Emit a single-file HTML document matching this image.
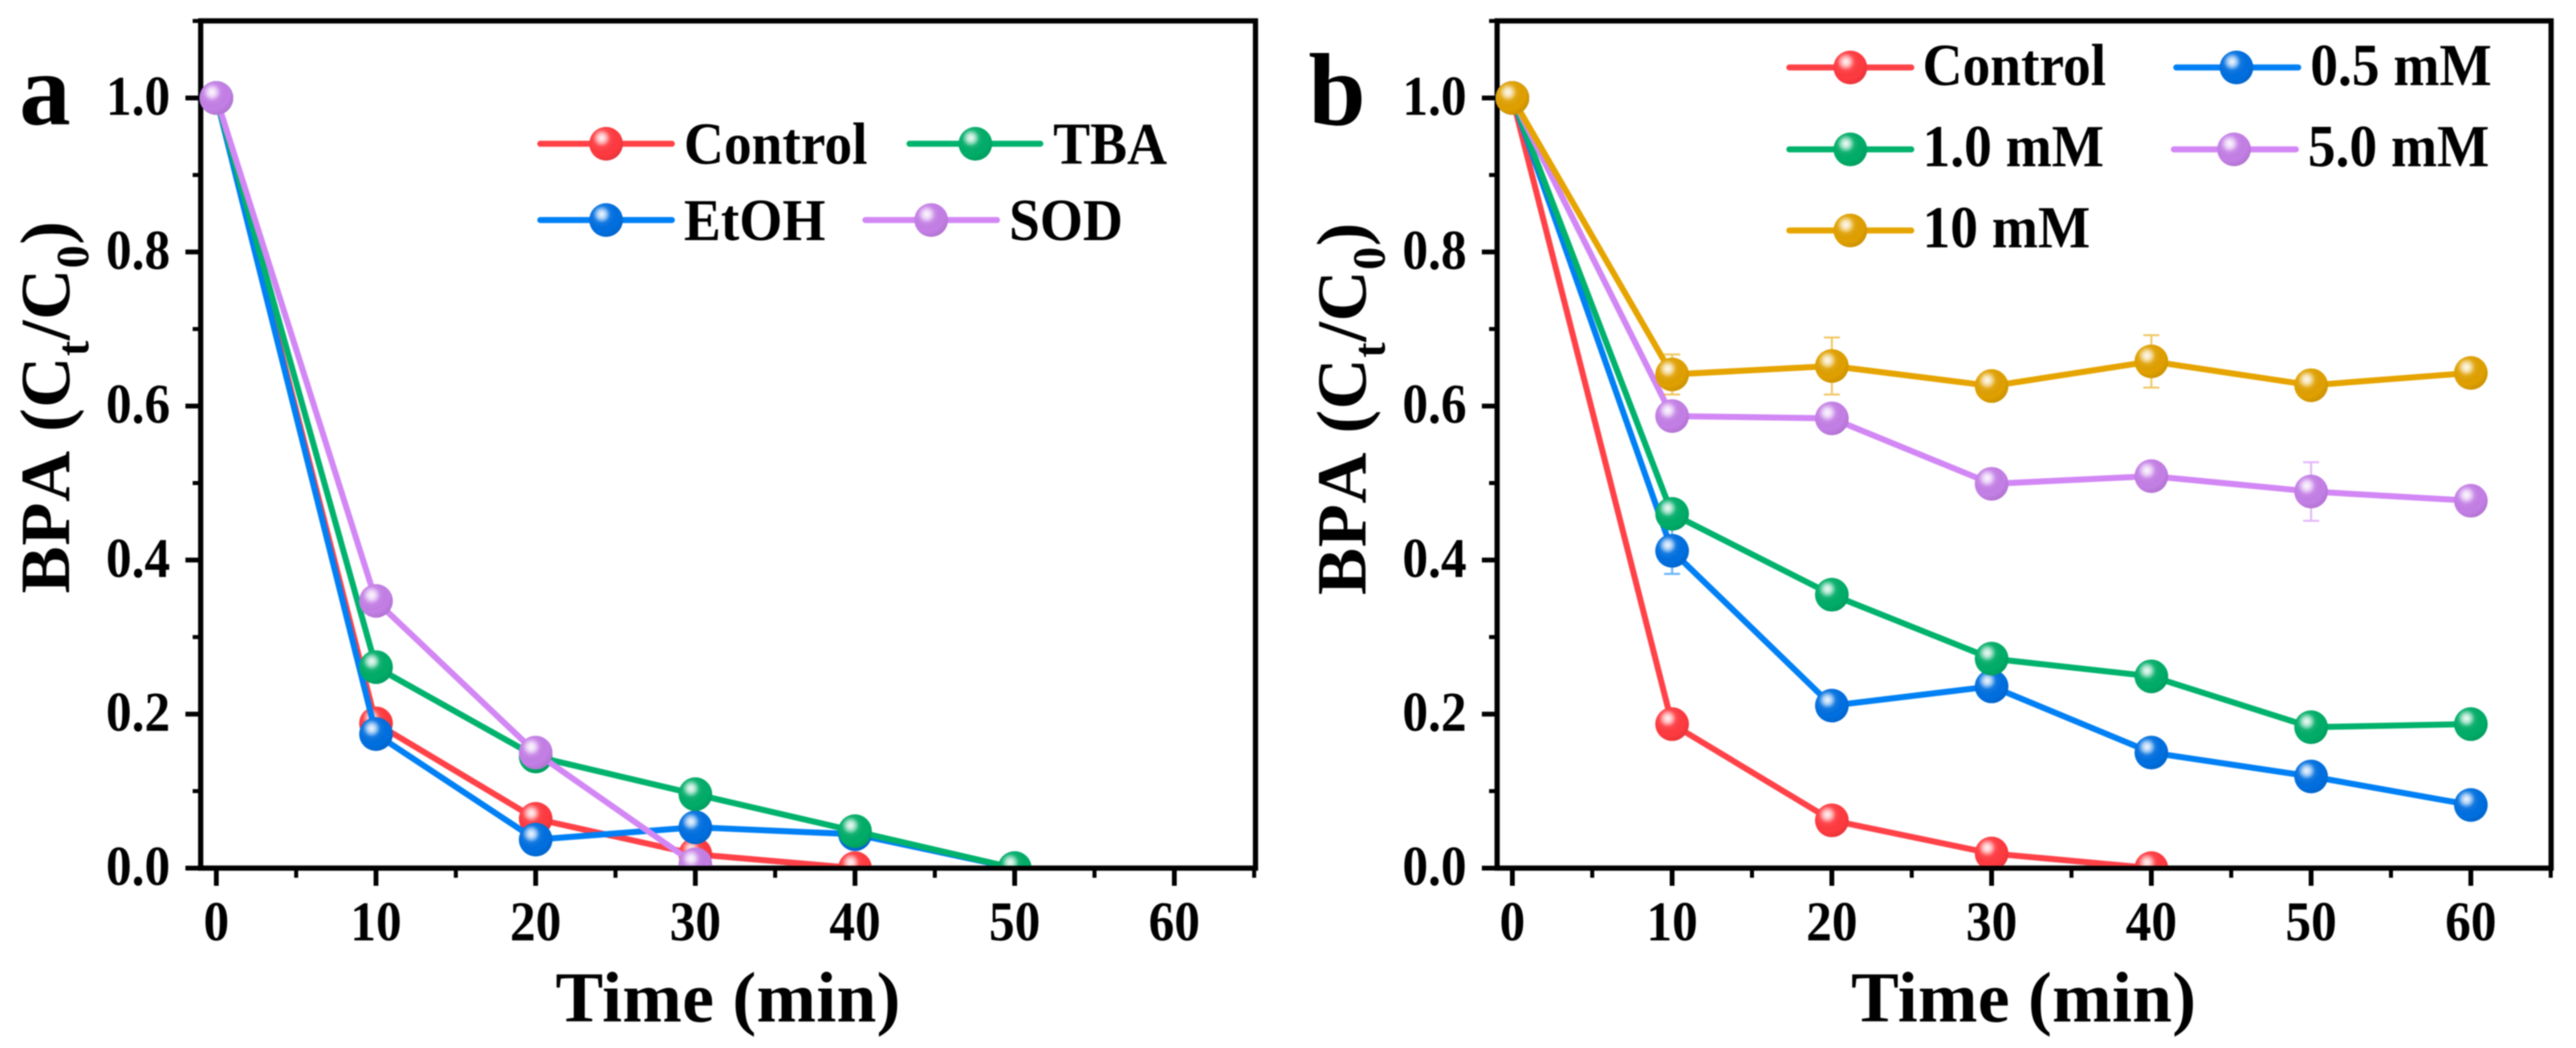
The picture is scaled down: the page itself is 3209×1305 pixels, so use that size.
<!DOCTYPE html>
<html lang="en">
<head>
<meta charset="utf-8">
<title>BPA degradation charts</title>
<style>
html,body{margin:0;padding:0;background:#fff;}
body{width:3209px;height:1305px;overflow:hidden;}
svg{display:block;filter:blur(0.8px);}
text{font-family:"Liberation Serif","Times New Roman",serif;font-weight:bold;fill:#000;}
</style>
</head>
<body>
<svg id="figure" xmlns="http://www.w3.org/2000/svg" width="3209" height="1305" viewBox="0 0 3209 1305">
  <defs>
    <radialGradient id="shine" cx="0.37" cy="0.33" r="0.72">
      <stop offset="0" stop-color="#fff" stop-opacity="0.95"/>
      <stop offset="0.16" stop-color="#fff" stop-opacity="0.7"/>
      <stop offset="0.36" stop-color="#fff" stop-opacity="0.08"/>
      <stop offset="0.7" stop-color="#000" stop-opacity="0"/>
      <stop offset="1" stop-color="#000" stop-opacity="0.1"/>
    </radialGradient>
    <clipPath id="clip-a"><rect x="200" y="26" width="1364" height="1052"/></clipPath>
    <clipPath id="clip-b"><rect x="1815" y="26" width="1362" height="1052"/></clipPath>
  </defs>
</svg>
<script>
// ---------- chart data ----------
const times = [0, 10, 20, 30, 40, 50, 60];
const xMajorTicks = [0, 10, 20, 30, 40, 50, 60];
const xMinorTicks = [5, 15, 25, 35, 45, 55, 65];
const xTickLabels = ['0', '10', '20', '30', '40', '50', '60'];
const yMajorTicks = [0, 0.2, 0.4, 0.6, 0.8, 1.0];
const yMinorTicks = [0.1, 0.3, 0.5, 0.7, 0.9, 1.1];
const yTickLabels = ['0.0', '0.2', '0.4', '0.6', '0.8', '1.0'];

// panel a
const aControl = [1, 0.188, 0.064, 0.018, 0];
const aEtOH = [1, 0.174, 0.037, 0.053, 0.044, 0];
const aTBA = [1, 0.261, 0.145, 0.096, 0.048, 0];
const aSOD = [1, 0.347, 0.150, 0.005];

// panel b
const bControl = [1, 0.187, 0.062, 0.019, 0];
const bHalf = [1, 0.412, 0.211, 0.236, 0.150, 0.119, 0.082];
const bOne = [1, 0.460, 0.355, 0.272, 0.249, 0.183, 0.187];
const bFive = [1, 0.587, 0.584, 0.499, 0.509, 0.489, 0.477];
const bTen = [1, 0.641, 0.652, 0.626, 0.658, 0.627, 0.643];

// panel b error bars (half-height, in BPA units)
const bHalfErr = [0, 0.030, 0, 0, 0, 0, 0];
const bFiveErr = [0, 0, 0, 0, 0, 0.038, 0];
const bTenErr = [0, 0.026, 0.037, 0, 0.034, 0, 0];

// ---------- styles ----------
const RED = {line: '#ff4248', dot: '#ff3a40'};
const BLUE = {line: '#0080f5', dot: '#006fe0'};
const GREEN = {line: '#00b26c', dot: '#00ad68'};
const PURPLE = {line: '#d287f5', dot: '#c47fe6'};
const ORANGE = {line: '#e6a400', dot: '#e0a000'};

const svg = document.getElementById('figure');
const NS = 'http://www.w3.org/2000/svg';

function make(tag, attrs, parent) {
  const el = document.createElementNS(NS, tag);
  for (const k in attrs) el.setAttribute(k, attrs[k]);
  (parent || svg).appendChild(el);
  return el;
}

function xScale(p, t) { return p.x0 + t * p.xUnit; }
function yScale(p, v) { return p.y0 - v * p.yUnit; }

function tall(x, y, sy) { return 'translate(' + x + ',' + y + ') scale(1,' + sy + ')'; }

function drawMarker(cx, cy, color, parent) {
  const base = make('circle', {cx: cx, cy: cy, r: 21, fill: color.dot}, parent);
  
  
  const gloss = make('circle', {cx: cx, cy: cy, r: 21, fill: 'url(#shine)'}, parent);
  
  
}

function drawAxes(p) {
  const g = make('g', {stroke: '#000', fill: 'none'});
  
  

  const frame = make('rect', {x: p.left, y: p.top, width: p.right - p.left, height: p.y0 - p.top, 'stroke-width': 6.5}, g);
  
  

  yMajorTicks.forEach(function (v, i) {
    const tick = make('line', {x1: p.left - 19, x2: p.left, y1: yScale(p, v), y2: yScale(p, v), 'stroke-width': 6}, g);
    
    
    const label = make('text', {transform: tall(p.left - 38, yScale(p, v) + 21, 1.1), 'text-anchor': 'end', 'font-size': 64, stroke: 'none'}, g);
    
    
    label.textContent = yTickLabels[i];
  });
  yMinorTicks.forEach(function (v) {
    const tick = make('line', {x1: p.left - 10, x2: p.left, y1: yScale(p, v), y2: yScale(p, v), 'stroke-width': 5}, g);
    
    
  });
  xMajorTicks.forEach(function (t, i) {
    const tick = make('line', {x1: xScale(p, t), x2: xScale(p, t), y1: p.y0, y2: p.y0 + 22, 'stroke-width': 6}, g);
    
    
    const label = make('text', {transform: tall(xScale(p, t), 1171, 1.1), 'text-anchor': 'middle', 'font-size': 64, stroke: 'none'}, g);
    
    
    label.textContent = xTickLabels[i];
  });
  xMinorTicks.forEach(function (t) {
    const tick = make('line', {x1: xScale(p, t), x2: xScale(p, t), y1: p.y0, y2: p.y0 + 12, 'stroke-width': 5}, g);
    
    
  });

  const xTitle = make('text', {x: p.xTitleX, y: 1272, 'font-size': 89, 'letter-spacing': 0.4});
  
  
  xTitle.textContent = 'Time (min)';

  const yTitle = make('text', {transform: 'translate(' + p.yTitleX + ',' + p.yTitleY + ') rotate(-90)', 'font-size': 88, 'letter-spacing': 0.8, style: 'font-kerning:none'});
  
  
  yTitle.appendChild(document.createTextNode('BPA (C'));
  make('tspan', {dy: 24, 'font-size': 57}, yTitle).textContent = 't';
  make('tspan', {dy: -24}, yTitle).textContent = '/C';
  make('tspan', {dy: 24, 'font-size': 57}, yTitle).textContent = '0';
  make('tspan', {dy: -24}, yTitle).textContent = ')';

  const letter = make('text', {x: p.letterX, y: 155, 'font-size': 128});
  
  
  letter.textContent = p.id;
}

function drawSeries(p, layer, name, values, color, errs) {
  const g = make('g', {}, layer);
  
  

  if (errs) {
    errs.forEach(function (e, i) {
      if (!e) return;
      const x = xScale(p, times[i]);
      const yHi = yScale(p, values[i] + e);
      const yLo = yScale(p, values[i] - e);
      const bar = make('path', {
        d: 'M' + x + ' ' + yHi + 'V' + yLo + 'M' + (x - 10) + ' ' + yHi + 'H' + (x + 10) + 'M' + (x - 10) + ' ' + yLo + 'H' + (x + 10),
        stroke: color.line, 'stroke-width': 2.5, 'stroke-opacity': 0.6, fill: 'none'
      }, g);
      
      
    });
  }

  const pts = values.map(function (v, i) { return xScale(p, times[i]) + ',' + yScale(p, v); }).join(' ');
  const line = make('polyline', {points: pts, fill: 'none', stroke: color.line, 'stroke-width': 7.5, 'stroke-linejoin': 'round'}, g);
  
  

  values.forEach(function (v, i) {
    drawMarker(xScale(p, times[i]), yScale(p, v), color, g);
  });
}

function legendEntry(name, x1, x2, cx, cy, textX, baseline, color) {
  const g = make('g', {});
  
  
  const key = make('line', {x1: x1, x2: x2, y1: cy, y2: cy, stroke: color.line, 'stroke-width': 7.5, 'stroke-linecap': 'round'}, g);
  
  
  drawMarker(cx, cy, color, g);
  const label = make('text', {transform: tall(textX, baseline, 1.07), 'font-size': 69}, g);
  
  
  label.textContent = name;
}

const panelA = {id: 'a', x0: 269.5, xUnit: 19.89, y0: 1081, yUnit: 959, left: 250, right: 1564, top: 26,
  xTitleX: 692, yTitleX: 86, yTitleY: 739, letterX: 24};
const panelB = {id: 'b', x0: 1884, xUnit: 19.9, y0: 1081, yUnit: 959, left: 1865, right: 3178, top: 26,
  xTitleX: 2306, yTitleX: 1701, yTitleY: 741, letterX: 1630};

drawAxes(panelA);
drawAxes(panelB);

const layerA = make('g', {'clip-path': 'url(#clip-a)'});


drawSeries(panelA, layerA, 'control', aControl, RED);
drawSeries(panelA, layerA, 'etoh', aEtOH, BLUE);
drawSeries(panelA, layerA, 'tba', aTBA, GREEN);
drawSeries(panelA, layerA, 'sod', aSOD, PURPLE);

const layerB = make('g', {'clip-path': 'url(#clip-b)'});


drawSeries(panelB, layerB, 'control', bControl, RED);
drawSeries(panelB, layerB, '0-5-mm', bHalf, BLUE, bHalfErr);
drawSeries(panelB, layerB, '1-0-mm', bOne, GREEN);
drawSeries(panelB, layerB, '5-0-mm', bFive, PURPLE, bFiveErr);
drawSeries(panelB, layerB, '10-mm', bTen, ORANGE, bTenErr);

legendEntry('Control', 673, 837, 755, 179, 852, 204, RED);
legendEntry('TBA', 1133, 1296, 1215, 179, 1312, 204, GREEN);
legendEntry('EtOH', 673, 837, 755, 274, 852, 299, BLUE);
legendEntry('SOD', 1078, 1242, 1160, 274, 1257, 299, PURPLE);

legendEntry('Control', 2229, 2381, 2305, 84, 2395, 106, RED);
legendEntry('0.5 mM', 2711, 2863, 2786, 84, 2878, 106, BLUE);
legendEntry('1.0 mM', 2229, 2381, 2305, 186, 2395, 207, GREEN);
legendEntry('5.0 mM', 2708, 2860, 2783, 186, 2875, 207, PURPLE);
legendEntry('10 mM', 2229, 2381, 2305, 287, 2395, 308, ORANGE);
</script>
</body>
</html>
